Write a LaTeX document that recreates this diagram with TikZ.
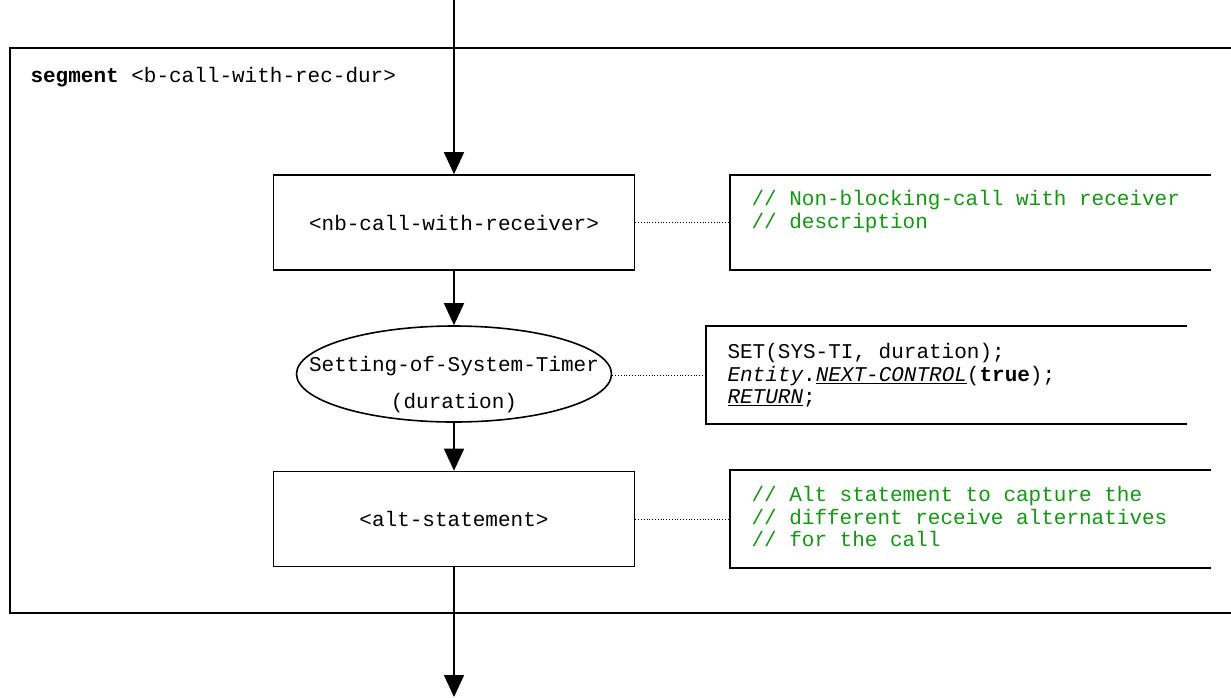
\documentclass[tikz,border=0pt]{standalone}
\usepackage{fontspec}
\setmonofont{Liberation Mono}
\usetikzlibrary{arrows.meta,shapes.geometric}
\definecolor{cgreen}{RGB}{20,150,20}
\tikzset{
  txt/.style={font=\fontsize{21}{22.5}\selectfont\ttfamily},
  procbox/.style={draw, line width=1.6pt, minimum width=361pt, minimum height=95pt, inner sep=0pt, txt},
  opbox/.style={draw, ellipse, line width=1.6pt, minimum width=315pt, minimum height=96pt, inner sep=0pt},
  cbox/.style={inner sep=0pt, minimum width=481pt, minimum height=95pt},
  cside/.style={line width=1.6pt},
  arr/.style={line width=1.6pt, -{Triangle[width=20pt,length=22pt]}},
  dotl/.style={dotted, line width=0.8pt},
  ctext/.style={txt, text=cgreen, align=left, anchor=north west},
}
\begin{document}
\begin{tikzpicture}[x=1pt,y=-1pt]
\useasboundingbox (0,0) rectangle (1231,697);
% outer frame
\draw[line width=1.6pt] (1231,48) -- (10,48) -- (10,613) -- (1231,613);
\node[txt, anchor=base west] (seglabel) at (27,82) {\textbf{segment} <b-call-with-rec-dur>};

% main nodes
\coordinate (top) at (454,0);
\coordinate (bot) at (454,697);
\node[procbox] (nb) at (454,222.5) {<nb-call-with-receiver>};
\node[opbox] (timer) at (454,374) {};
\node[txt] (tl1) at (454,366) {Setting-of-System-Timer};
\node[txt] (tl2) at (454,403) {(duration)};
\node[procbox] (alt) at (454,519) {<alt-statement>};

\draw[arr] (top) -- (nb.north);
\draw[arr] (nb.south) -- (timer.north);
\draw[arr] (timer.south) -- (alt.north);
\draw[arr] (alt.south) -- (bot);

% comment boxes (open on the right)
\node[cbox, minimum width=481pt] (c1) at (970.5,222.5) {};
\draw[cside] (c1.north east) -- (c1.north west) -- (c1.south west) -- (c1.south east);
\node[ctext] (c1t) at (748,187) {// Non-blocking-call with receiver\\// description};

\node[cbox, minimum width=481pt, minimum height=98pt] (c2) at (946.5,375) {};
\draw[cside] (c2.north east) -- (c2.north west) -- (c2.south west) -- (c2.south east);
\node[txt, align=left, anchor=north west] (c2t) at (724,340) {SET(SYS-TI, duration);\\\textit{Entity}.\underline{\textit{NEXT-CONTROL}}(\textbf{true});\\\underline{\textit{RETURN}};};

\node[cbox, minimum width=481pt, minimum height=98pt] (c3) at (970.5,519) {};
\draw[cside] (c3.north east) -- (c3.north west) -- (c3.south west) -- (c3.south east);
\node[ctext] (c3t) at (748,483) {// Alt statement to capture the\\// different receive alternatives\\// for the call};

% dotted links
\draw[dotl] (nb.east) -- (c1.west);
\draw[dotl] (timer.east |- c2.west) -- (c2.west);
\draw[dotl] (alt.east) -- (c3.west);
\end{tikzpicture}
\end{document}
